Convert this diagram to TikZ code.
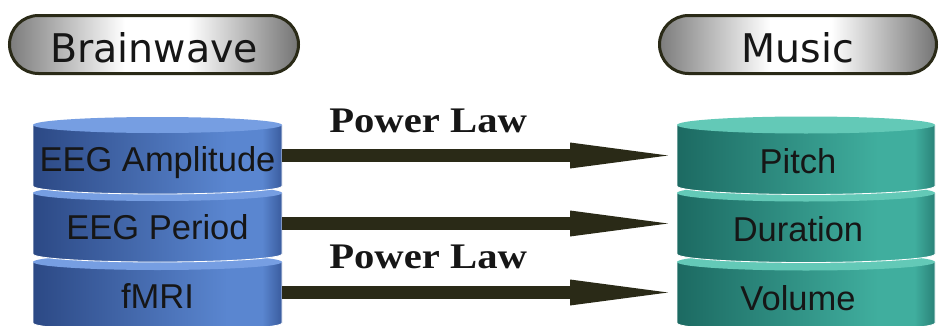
\documentclass[tikz,border=0pt]{standalone}
\usepackage{fontspec}
\setmainfont{Liberation Sans}
\newfontfamily\dejavu{DejaVu Sans}
\newfontfamily\plfont[FakeStretch=1.13]{Liberation Serif}
\usetikzlibrary{arrows.meta,shapes.misc}
\definecolor{bA}{HTML}{2C4985}
\definecolor{bB}{HTML}{5A86D0}
\definecolor{bC}{HTML}{3A5C9E}
\definecolor{bFace}{HTML}{769EE2}
\definecolor{tA}{HTML}{1C6A62}
\definecolor{tB}{HTML}{40AE9E}
\definecolor{tC}{HTML}{2A8278}
\definecolor{tFace}{HTML}{63C9B7}
\definecolor{gA}{HTML}{7C7C7C}
\definecolor{gC}{HTML}{747474}
\definecolor{arr}{HTML}{2A2A17}
\definecolor{ink}{HTML}{161616}
\pgfdeclarehorizontalshading{blueside}{100bp}{color(0bp)=(bA); color(25bp)=(bA); color(64bp)=(bB); color(71bp)=(bB); color(75bp)=(bC); color(100bp)=(bC)}
\pgfdeclarehorizontalshading{tealside}{100bp}{color(0bp)=(tA); color(25bp)=(tA); color(64bp)=(tB); color(71bp)=(tB); color(75bp)=(tC); color(100bp)=(tC)}
\pgfdeclarehorizontalshading{pillshade}{100bp}{color(0bp)=(gA); color(25bp)=(gA); color(45bp)=(white); color(56bp)=(white); color(75bp)=(gC); color(100bp)=(gC)}
\newcommand{\cylseg}[7]{% x0, x1, ytop, ybot, shading, face, ry
  \path[shade, shading=#5, draw=white, line width=0.8pt]
    (#1,#3) -- (#1,#4) arc[start angle=180, end angle=360, x radius={(#2-#1)/2}, y radius=#7] -- (#2,#3) -- cycle;
  \fill[#6] ({(#1+#2)/2},#3) ellipse[x radius={(#2-#1)/2}, y radius=#7];
}
\tikzset{
  pill/.style={rounded rectangle, shade, shading=pillshade, draw=arr, line width=3pt,
    minimum height=58pt, inner sep=0pt, text=ink, text height=35pt, text depth=0pt,
    font=\dejavu\fontsize{39.5}{44}\selectfont},
  segtext/.style={inner sep=0pt, outer sep=0pt, minimum height=61pt, text=ink,
    text depth=0pt, font=\fontsize{34.5}{38}\selectfont},
  bigarrow/.style={draw=arr, line width=13pt, -{Triangle[length=98pt 0 0, width=26pt 0 0, line width=0pt 0 0]}, shorten >=9pt},
  pllabel/.style={anchor=base, text=ink, yshift=23.5pt, inner sep=0pt, font=\plfont\bfseries\fontsize{36}{40}\selectfont}
}
\begin{document}
\begin{tikzpicture}[x=1pt,y=1pt]
\useasboundingbox (0,0) rectangle (940,325);
\fill[white] (0,0) rectangle (940,325);
% headers
\node[pill, minimum width=289pt] (bw) at (154,280.5) {Brainwave};
\node[pill, minimum width=277pt] (mu) at (798,280.5) {Music};
% left stack
\cylseg{33}{282}{63}{2}{blueside}{bFace}{8}
\cylseg{33}{282}{132}{71}{blueside}{bFace}{8}
\cylseg{33}{282}{200}{139}{blueside}{bFace}{8}
% right stack
\cylseg{677}{935}{63}{2}{tealside}{tFace}{8.5}
\cylseg{677}{935}{132}{71}{tealside}{tFace}{8.5}
\cylseg{677}{935}{200}{139}{tealside}{tFace}{8.5}
% texts
\node[segtext, minimum width=249pt, text height=31pt] (amp) at (157.5,169.5) {EEG Amplitude};
\node[segtext, minimum width=249pt, text height=31pt] (per) at (157.5,101.5) {EEG Period};
\node[segtext, minimum width=249pt, text height=31pt] (fmri) at (157.5,32.5) {fMRI};
\node[segtext, minimum width=242pt, text height=36pt] (pitch) at (798,169.5) {Pitch};
\node[segtext, minimum width=242pt, text height=36pt] (dur) at (798,101.5) {Duration};
\node[segtext, minimum width=242pt, text height=36pt] (vol) at (798,32.5) {Volume};
% arrows
\draw[bigarrow] (amp.east) -- node[pllabel, pos=0.37] (pl1) {Power Law} (pitch.west);
\draw[bigarrow] (per.east) -- (dur.west);
\draw[bigarrow] (fmri.east) -- node[pllabel, pos=0.37, yshift=1pt] (pl2) {Power Law} (vol.west);
\end{tikzpicture}
\end{document}
